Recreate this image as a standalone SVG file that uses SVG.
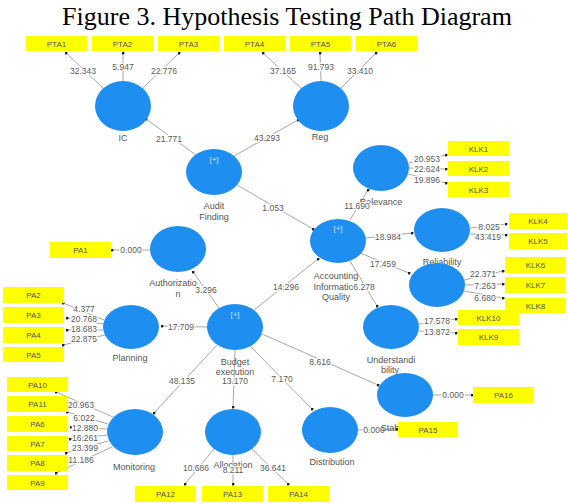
<svg xmlns="http://www.w3.org/2000/svg" width="568" height="504" viewBox="0 0 568 504">
<style>
.n{fill:#1e8ff0}
.b{fill:#ffff00}
.bt{font-family:"Liberation Sans",Arial,sans-serif;font-size:8px;fill:#555;text-anchor:middle}
.t{font-family:"Liberation Sans",Arial,sans-serif;font-size:9px;fill:#555;text-anchor:middle}
.p{font-family:"Liberation Sans",Arial,sans-serif;font-size:8px;fill:#cfe6ff;text-anchor:middle}
.c{stroke:#a8a8a8;stroke-width:1;fill:none;marker-end:url(#dot)}
.v{font-family:"Liberation Sans",Arial,sans-serif;font-size:8.5px;fill:#5a5a5a;text-anchor:middle;stroke:#fff;stroke-width:2.5px;paint-order:stroke;stroke-linejoin:round}
.title{font-family:"Liberation Serif","Times New Roman",serif;font-size:26px;fill:#000;text-anchor:middle}
</style>
<defs>
<marker id="dot" viewBox="0 0 4 4" refX="2" refY="2" markerWidth="3" markerHeight="3" markerUnits="userSpaceOnUse"><circle cx="2" cy="2" r="2" fill="#222"/></marker>
</defs>
<rect width="568" height="504" fill="#fff"/>
<text class="title" x="287" y="25">Figure 3. Hypothesis Testing Path Diagram</text>

<g id="connectors">
<line class="c" x1="103" y1="88" x2="66" y2="53"/><text class="v" x="83" y="74">32.343</text>
<line class="c" x1="123" y1="81" x2="123" y2="53"/><text class="v" x="123" y="70">5.947</text>
<line class="c" x1="143" y1="88" x2="179" y2="53"/><text class="v" x="164" y="74">22.776</text>
<line class="c" x1="301" y1="88" x2="263" y2="53"/><text class="v" x="283" y="74">37.165</text>
<line class="c" x1="321" y1="81" x2="320" y2="53"/><text class="v" x="321" y="70">91.793</text>
<line class="c" x1="341" y1="88" x2="376" y2="53"/><text class="v" x="360" y="74">33.410</text>
<line class="c" x1="196" y1="155" x2="146" y2="119"/><text class="v" x="169" y="142">21.771</text>
<line class="c" x1="234" y1="156" x2="298" y2="120"/><text class="v" x="267" y="141">43.293</text>
<line class="c" x1="237" y1="185" x2="313" y2="229"/><text class="v" x="273" y="211">1.053</text>
<line class="c" x1="350" y1="220" x2="368" y2="190"/>
<line class="c" x1="366" y1="238" x2="412" y2="233"/><text class="v" x="388" y="240">18.984</text>
<line class="c" x1="360" y1="253" x2="409" y2="273"/><text class="v" x="383" y="267">17.459</text>
<line class="c" x1="350" y1="261" x2="377" y2="306"/>
<line class="c" x1="409" y1="163" x2="446" y2="155"/><text class="v" x="427" y="162">20.953</text>
<line class="c" x1="409" y1="168" x2="446" y2="169"/><text class="v" x="427" y="172">22.624</text>
<line class="c" x1="408" y1="174" x2="446" y2="183"/><text class="v" x="427" y="183">19.896</text>
<line class="c" x1="470" y1="228" x2="506" y2="224"/><text class="v" x="489" y="230">8.025</text>
<line class="c" x1="470" y1="234" x2="506" y2="235"/><text class="v" x="488" y="240">43.419</text>
<line class="c" x1="464" y1="280" x2="503" y2="271"/><text class="v" x="483" y="277">22.371</text>
<line class="c" x1="465" y1="285" x2="503" y2="284"/><text class="v" x="485" y="289">7.263</text>
<line class="c" x1="464" y1="291" x2="503" y2="298"/><text class="v" x="485" y="301">6.680</text>
<line class="c" x1="419" y1="324" x2="456" y2="319"/><text class="v" x="437" y="324">17.578</text>
<line class="c" x1="419" y1="331" x2="456" y2="333"/><text class="v" x="437" y="335">13.872</text>
<line class="c" x1="219" y1="308" x2="193" y2="272"/><text class="v" x="206" y="293">3.296</text>
<line class="c" x1="254" y1="310" x2="318" y2="259"/><text class="v" x="286" y="290">14.296</text>
<line class="c" x1="207" y1="327" x2="162" y2="326"/><text class="v" x="181" y="330">17.709</text>
<line class="c" x1="217" y1="345" x2="154" y2="413"/><text class="v" x="182" y="384">48.135</text>
<line class="c" x1="235" y1="350" x2="233" y2="407"/><text class="v" x="235" y="384">13.170</text>
<line class="c" x1="250" y1="346" x2="312" y2="409"/><text class="v" x="282" y="382">7.170</text>
<line class="c" x1="262" y1="334" x2="378" y2="385"/><text class="v" x="320" y="365">8.616</text>
<line class="c" x1="150" y1="250" x2="112" y2="250"/><text class="v" x="131" y="253">0.000</text>
<line class="c" x1="104" y1="320" x2="63" y2="303"/><text class="v" x="84" y="312">4.377</text>
<line class="c" x1="103" y1="324" x2="67" y2="318"/><text class="v" x="84" y="322">20.768</text>
<line class="c" x1="103" y1="330" x2="67" y2="330"/><text class="v" x="84" y="332">18.683</text>
<line class="c" x1="105" y1="335" x2="63" y2="345"/><text class="v" x="84" y="342">22.875</text>
<line class="c" x1="113" y1="417" x2="56" y2="392"/><text class="v" x="81" y="408">20.963</text>
<line class="c" x1="108" y1="424" x2="67" y2="412"/><text class="v" x="84" y="421">6.022</text>
<line class="c" x1="107" y1="429" x2="71" y2="427"/><text class="v" x="85" y="431">12.880</text>
<line class="c" x1="107" y1="435" x2="70" y2="439"/><text class="v" x="85" y="441">16.261</text>
<line class="c" x1="108" y1="441" x2="66" y2="453"/><text class="v" x="85" y="451">23.399</text>
<line class="c" x1="112" y1="447" x2="56" y2="473"/><text class="v" x="81" y="463">11.186</text>
<line class="c" x1="214" y1="449" x2="185" y2="484"/><text class="v" x="196" y="471">10.686</text>
<line class="c" x1="233" y1="455" x2="233" y2="484"/>
<line class="c" x1="252" y1="449" x2="288" y2="484"/><text class="v" x="273" y="471">36.641</text>
<line class="c" x1="358" y1="430" x2="397" y2="429"/><text class="v" x="374" y="433">0.000</text>
<line class="c" x1="433" y1="395" x2="472" y2="395"/><text class="v" x="453" y="398">0.000</text>
</g>

<g id="node-IC"><ellipse class="n" cx="123" cy="106" rx="28" ry="25"/><text class="t" x="123" y="141">IC</text></g>
<g id="node-Reg"><ellipse class="n" cx="321" cy="106" rx="28" ry="25"/><text class="t" x="320" y="140">Reg</text></g>
<g id="node-AuditFinding"><ellipse class="n" cx="214" cy="172" rx="28" ry="23"/><text class="p" x="214" y="162">[+]</text><text class="t" x="214" y="209">Audit</text><text class="t" x="214" y="220">Finding</text></g>
<g id="node-Authorization"><ellipse class="n" cx="178" cy="249" rx="28" ry="23"/><text class="t" x="173" y="286">Authorizatio</text><text class="t" x="178" y="297">n</text></g>
<g id="node-AIQ"><ellipse class="n" cx="338" cy="241" rx="28" ry="22"/><text class="p" x="338" y="231">[+]</text><text class="t" x="336" y="279">Accounting</text><text class="t" x="336" y="290">Information</text><text class="t" x="336" y="300">Quality</text></g>
<text class="v" x="364" y="290">6.278</text>
<g id="node-Relevance"><ellipse class="n" cx="381" cy="168" rx="28" ry="23"/><text class="t" x="381" y="205">Relevance</text></g>
<text class="v" x="357" y="209">11.690</text>
<g id="node-Reliability"><ellipse class="n" cx="442" cy="230" rx="28" ry="22"/><text class="t" x="442" y="265">Reliability</text></g>
<g id="node-KLK6-8"><ellipse class="n" cx="437" cy="285" rx="28" ry="22"/></g>
<g id="node-Understandability"><ellipse class="n" cx="391" cy="327" rx="28" ry="22"/><text class="t" x="391" y="363">Understandi</text><text class="t" x="390" y="373">bility</text></g>
<g id="node-Stabilization"><ellipse class="n" cx="405" cy="395" rx="28" ry="22"/><text class="t" x="405" y="431">Stabilization</text></g>
<g id="node-Budget"><ellipse class="n" cx="235" cy="327" rx="28" ry="23"/><text class="p" x="235" y="317">[+]</text><text class="t" x="235" y="365">Budget</text><text class="t" x="235" y="375">execution</text></g>
<g id="node-Planning"><ellipse class="n" cx="131" cy="327" rx="28" ry="22"/><text class="t" x="130" y="361">Planning</text></g>
<g id="node-Monitoring"><ellipse class="n" cx="135" cy="432" rx="28" ry="23"/><text class="t" x="134" y="470">Monitoring</text></g>
<g id="node-Allocation"><ellipse class="n" cx="233" cy="432" rx="28" ry="23"/><text class="t" x="233" y="468">Allocation</text></g>
<text class="v" x="233" y="473">8.211</text>
<g id="node-Distribution"><ellipse class="n" cx="330" cy="430" rx="28" ry="23"/><text class="t" x="332" y="465">Distribution</text></g>

<g id="PTA1"><rect class="b" x="26" y="36" width="61" height="15"/><text class="bt" x="56.5" y="46.5">PTA1</text></g>
<g id="PTA2"><rect class="b" x="92" y="36" width="61" height="15"/><text class="bt" x="122.5" y="46.5">PTA2</text></g>
<g id="PTA3"><rect class="b" x="158" y="36" width="61" height="15"/><text class="bt" x="188.5" y="46.5">PTA3</text></g>
<g id="PTA4"><rect class="b" x="224" y="36" width="61" height="15"/><text class="bt" x="254.5" y="46.5">PTA4</text></g>
<g id="PTA5"><rect class="b" x="290" y="36" width="61" height="15"/><text class="bt" x="320.5" y="46.5">PTA5</text></g>
<g id="PTA6"><rect class="b" x="356" y="36" width="61" height="15"/><text class="bt" x="386.5" y="46.5">PTA6</text></g>
<g id="KLK1"><rect class="b" x="448" y="141" width="61" height="15"/><text class="bt" x="478.5" y="151.5">KLK1</text></g>
<g id="KLK2"><rect class="b" x="448" y="161" width="61" height="15"/><text class="bt" x="478.5" y="171.5">KLK2</text></g>
<g id="KLK3"><rect class="b" x="448" y="182" width="61" height="15"/><text class="bt" x="478.5" y="192.5">KLK3</text></g>
<g id="KLK4"><rect class="b" x="509" y="213" width="58" height="16"/><text class="bt" x="538" y="224">KLK4</text></g>
<g id="KLK5"><rect class="b" x="509" y="233" width="58" height="16"/><text class="bt" x="538" y="244">KLK5</text></g>
<g id="KLK6"><rect class="b" x="505" y="257" width="61" height="16"/><text class="bt" x="535.5" y="268">KLK6</text></g>
<g id="KLK7"><rect class="b" x="505" y="277" width="61" height="16"/><text class="bt" x="535.5" y="288">KLK7</text></g>
<g id="KLK8"><rect class="b" x="505" y="298" width="61" height="15"/><text class="bt" x="535.5" y="308.5">KLK8</text></g>
<g id="KLK10"><rect class="b" x="458" y="310" width="61" height="15"/><text class="bt" x="488.5" y="320.5">KLK10</text></g>
<g id="KLK9"><rect class="b" x="458" y="329" width="61" height="16"/><text class="bt" x="488.5" y="340">KLK9</text></g>
<g id="PA1"><rect class="b" x="50" y="242" width="61" height="16"/><text class="bt" x="80.5" y="253">PA1</text></g>
<g id="PA2"><rect class="b" x="3" y="287" width="61" height="16"/><text class="bt" x="33.5" y="298">PA2</text></g>
<g id="PA3"><rect class="b" x="3" y="307" width="61" height="16"/><text class="bt" x="33.5" y="318">PA3</text></g>
<g id="PA4"><rect class="b" x="3" y="327" width="61" height="16"/><text class="bt" x="33.5" y="338">PA4</text></g>
<g id="PA5"><rect class="b" x="3" y="347" width="61" height="15"/><text class="bt" x="33.5" y="357.5">PA5</text></g>
<g id="PA10"><rect class="b" x="7" y="377" width="61" height="15"/><text class="bt" x="37.5" y="387.5">PA10</text></g>
<g id="PA11"><rect class="b" x="7" y="396" width="61" height="16"/><text class="bt" x="37.5" y="407">PA11</text></g>
<g id="PA6"><rect class="b" x="7" y="416" width="61" height="16"/><text class="bt" x="37.5" y="427">PA6</text></g>
<g id="PA7"><rect class="b" x="7" y="436" width="61" height="15"/><text class="bt" x="37.5" y="446.5">PA7</text></g>
<g id="PA8"><rect class="b" x="7" y="455" width="61" height="16"/><text class="bt" x="37.5" y="466">PA8</text></g>
<g id="PA9"><rect class="b" x="7" y="475" width="61" height="15"/><text class="bt" x="37.5" y="485.5">PA9</text></g>
<g id="PA12"><rect class="b" x="135" y="486" width="61" height="16"/><text class="bt" x="165.5" y="497">PA12</text></g>
<g id="PA13"><rect class="b" x="202" y="486" width="61" height="16"/><text class="bt" x="232.5" y="497">PA13</text></g>
<g id="PA14"><rect class="b" x="268" y="486" width="61" height="16"/><text class="bt" x="298.5" y="497">PA14</text></g>
<g id="PA16"><rect class="b" x="473" y="387" width="61" height="16"/><text class="bt" x="503.5" y="398">PA16</text></g>
<g id="PA15"><rect class="b" x="398" y="422" width="60" height="15"/><text class="bt" x="428" y="432.5">PA15</text></g>
</svg>
